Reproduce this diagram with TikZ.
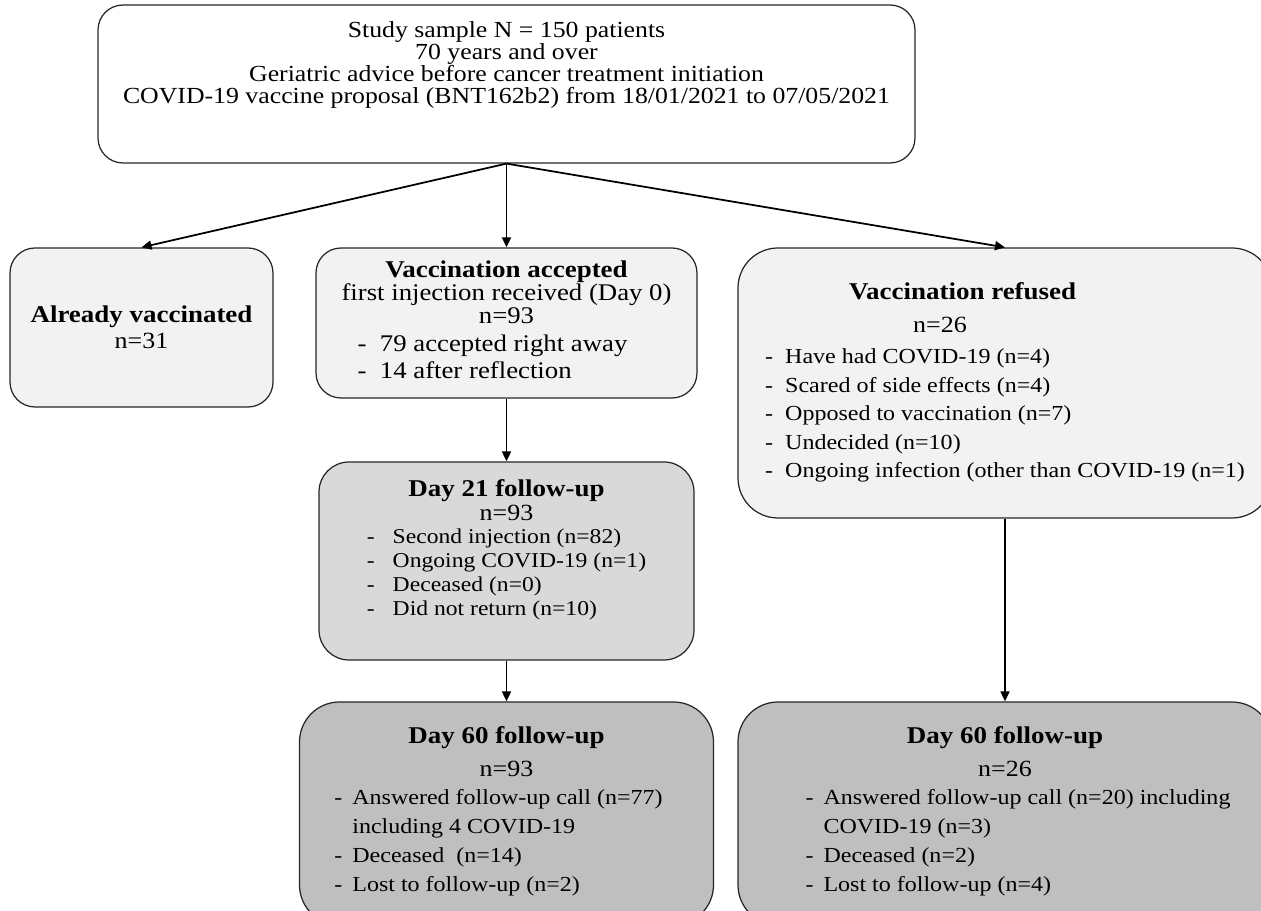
\documentclass[tikz,border=0pt]{standalone}
\usepackage{fontspec}
\setmainfont{Liberation Serif}[FakeStretch=1.12]
\usepackage{tikz}
\usetikzlibrary{arrows.meta}
\definecolor{boxlight}{RGB}{242,242,242}
\definecolor{boxmid}{RGB}{217,217,217}
\definecolor{boxdark}{RGB}{191,191,191}
\newcommand{\boxtitle}[1]{{\fontsize{13.7}{14}\selectfont\bfseries #1}}
\newcommand{\boxcount}[1]{{\fontsize{13.2}{14}\selectfont #1}}

\begin{document}
\begin{tikzpicture}[
    flowbox/.style={draw=black!85, line width=0.7pt, rounded corners=0.5cm, align=center, inner sep=0pt},
    flowarrow/.style={-{Triangle[length=2mm,width=1.8mm]}, line width=1pt}
  ]
    \useasboundingbox (0,0) rectangle (25.22,18.22);
    \clip (0,0) rectangle (25.22,18.22);

    \node[flowbox, fill=white, minimum width=16.34cm, minimum height=3.16cm] (sample) at (10.13,16.54) {};
    \node[align=center, font=\fontsize{13.1}{12.5}\selectfont] (sampletext) at (10.13,16.92)
        {Study sample N = 150 patients\\ 70 years and over\\ Geriatric advice before cancer treatment initiation\\ COVID-19 vaccine proposal (BNT162b2) from 18/01/2021 to 07/05/2021};

    \node[flowbox, fill=boxlight, minimum width=5.26cm, minimum height=3.18cm] (already) at (2.83,11.67)
        {\boxtitle{Already vaccinated}\\[3pt] \boxcount{n=31}};
    \node[flowbox, fill=boxlight, minimum width=7.62cm, minimum height=3cm, font=\fontsize{13.6}{13}\selectfont] (accepted) at (10.13,11.76)
        {\boxtitle{Vaccination accepted}\\ first injection received (Day 0)\\ n=93\\[3pt]
         \begin{tabular}[t]{@{}l@{}} - \ 79 accepted right away\\[2pt] - \ 14 after reflection\end{tabular}\hspace*{0.56cm}};
    \node[flowbox, fill=boxlight, rounded corners=0.8cm, minimum width=10.68cm, minimum height=5.4cm, font=\fontsize{12.2}{16.2}\selectfont] (refused) at (20.1,10.56)
        {\begin{tabular}{@{}l@{}}
           \hspace{1.68cm}\boxtitle{Vaccination refused}\\[2.5pt]
           \hspace{2.96cm}\boxcount{n=26}\\[1.4pt]
           - \ Have had COVID-19 (n=4)\\
           - \ Scared of side effects (n=4)\\
           - \ Opposed to vaccination (n=7)\\
           - \ Undecided (n=10)\\
           - \ Ongoing infection (other than COVID-19 (n=1)
         \end{tabular}};

    \node[flowbox, fill=boxmid, rounded corners=0.6cm, minimum width=7.5cm, minimum height=3.96cm] (day21) at (10.13,7.0) {};
    \node[align=center, font=\fontsize{12}{13.6}\selectfont] (day21text) at (10.13,7.2)
        {\boxtitle{Day 21 follow-up}\\ \boxcount{n=93}\\
         \begin{tabular}[t]{@{}l@{\hspace{0.36cm}}l@{}} - & Second injection (n=82)\\ - & Ongoing COVID-19 (n=1)\\ - & Deceased (n=0)\\ - & Did not return (n=10)\end{tabular}};

    \node[flowbox, fill=boxdark, rounded corners=0.8cm, minimum width=8.28cm, minimum height=4.46cm, font=\fontsize{12.2}{16.4}\selectfont] (day60a) at (10.13,1.95)
        {\boxtitle{Day 60 follow-up}\\[2pt] \boxcount{n=93}\\
         \begin{tabular}[t]{@{}l@{\hspace{0.2cm}}l@{}} - & Answered follow-up call (n=77)\\ & including 4 COVID-19\\ - & Deceased \ (n=14)\\ - & Lost to follow-up (n=2)\end{tabular}\hspace*{0.32cm}};
    \node[flowbox, fill=boxdark, rounded corners=0.8cm, minimum width=10.68cm, minimum height=4.46cm, font=\fontsize{12.2}{16.4}\selectfont] (day60b) at (20.1,1.95)
        {\boxtitle{Day 60 follow-up}\\[2pt] \boxcount{n=26}\\
         \hspace*{0.52cm}\begin{tabular}[t]{@{}l@{\hspace{0.2cm}}l@{}} - & Answered follow-up call (n=20) including\\ & COVID-19 (n=3)\\ - & Deceased (n=2)\\ - & Lost to follow-up (n=4)\end{tabular}};

    \draw[flowarrow] (sample.south) -- (already.north);
    \draw[flowarrow] (sample.south) -- (accepted.north);
    \draw[flowarrow] (sample.south) -- (refused.north);
    \draw[flowarrow] (accepted.south) -- (day21.north);
    \draw[flowarrow] (day21.south) -- (day60a.north);
    \draw[flowarrow] (refused.south) -- (day60b.north);
\end{tikzpicture}
\end{document}
